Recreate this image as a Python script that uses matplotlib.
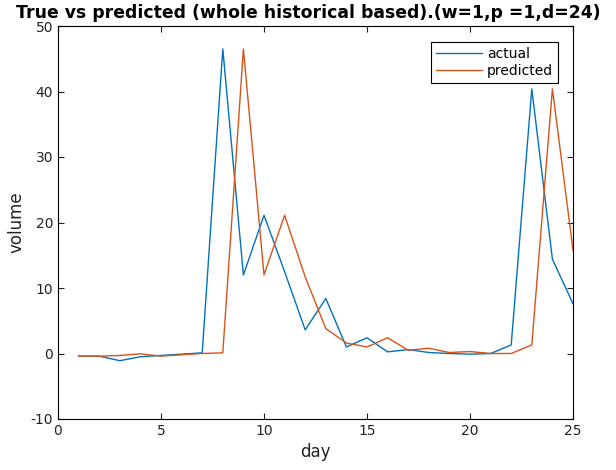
import matplotlib
matplotlib.use("Agg")
from matplotlib import pyplot as plt

plt.rcParams["axes.unicode_minus"] = False

days = list(range(1, 26))
actual = [-0.4, -0.4, -1.1, -0.5, -0.3, -0.1, 0.1, 46.5, 12.0, 21.1,
          12.5, 3.6, 8.4, 1.0, 2.4, 0.25, 0.6, 0.15, 0.0, -0.1,
          0.0, 1.3, 40.4, 14.4, 7.6]
predicted = [-0.4, -0.4, -0.3, -0.05, -0.4, -0.2, 0.0, 0.1, 46.5, 12.0,
             21.1, 11.7, 3.8, 1.6, 1.0, 2.4, 0.5, 0.8, 0.15, 0.3,
             0.0, 0.0, 1.3, 40.4, 15.8]

blue = "#0072BD"
orange = "#D95319"

fig = plt.figure(figsize=(6.16, 4.70), dpi=100)
ax = fig.add_axes([58/616, 1 - 419/470, (573 - 58)/616, (419 - 26)/470])

ax.plot(days, actual, color=blue, lw=1.0, label="actual")
ax.plot(days, predicted, color=orange, lw=1.0, label="predicted")

ax.set_xlim(0, 25)
ax.set_ylim(-10, 50)
ax.set_xticks([0, 5, 10, 15, 20, 25])
ax.set_yticks([-10, 0, 10, 20, 30, 40, 50])
ax.tick_params(direction="in", top=True, right=True, labelsize=10, length=4,
               width=0.8, colors="#222222")
for s in ax.spines.values():
    s.set_linewidth(0.8)

ax.set_xlabel("day", fontsize=12, color="#222222")
ax.set_ylabel("volume", fontsize=12, color="#222222")
ax.set_title("True vs predicted (whole historical based).(w=1,p =1,d=24)",
             fontsize=12.4, fontweight="bold", pad=6, x=0.487)

leg = ax.legend(loc="upper right", bbox_to_anchor=(558/616, 1 - 42/470),
                bbox_transform=fig.transFigure, fontsize=10, fancybox=False,
                framealpha=1, edgecolor="black", borderpad=0.35,
                borderaxespad=0, labelspacing=0.25, handlelength=3.3,
                handletextpad=0.35)
leg.get_frame().set_linewidth(0.8)

fig.savefig("out.png", dpi=100)
